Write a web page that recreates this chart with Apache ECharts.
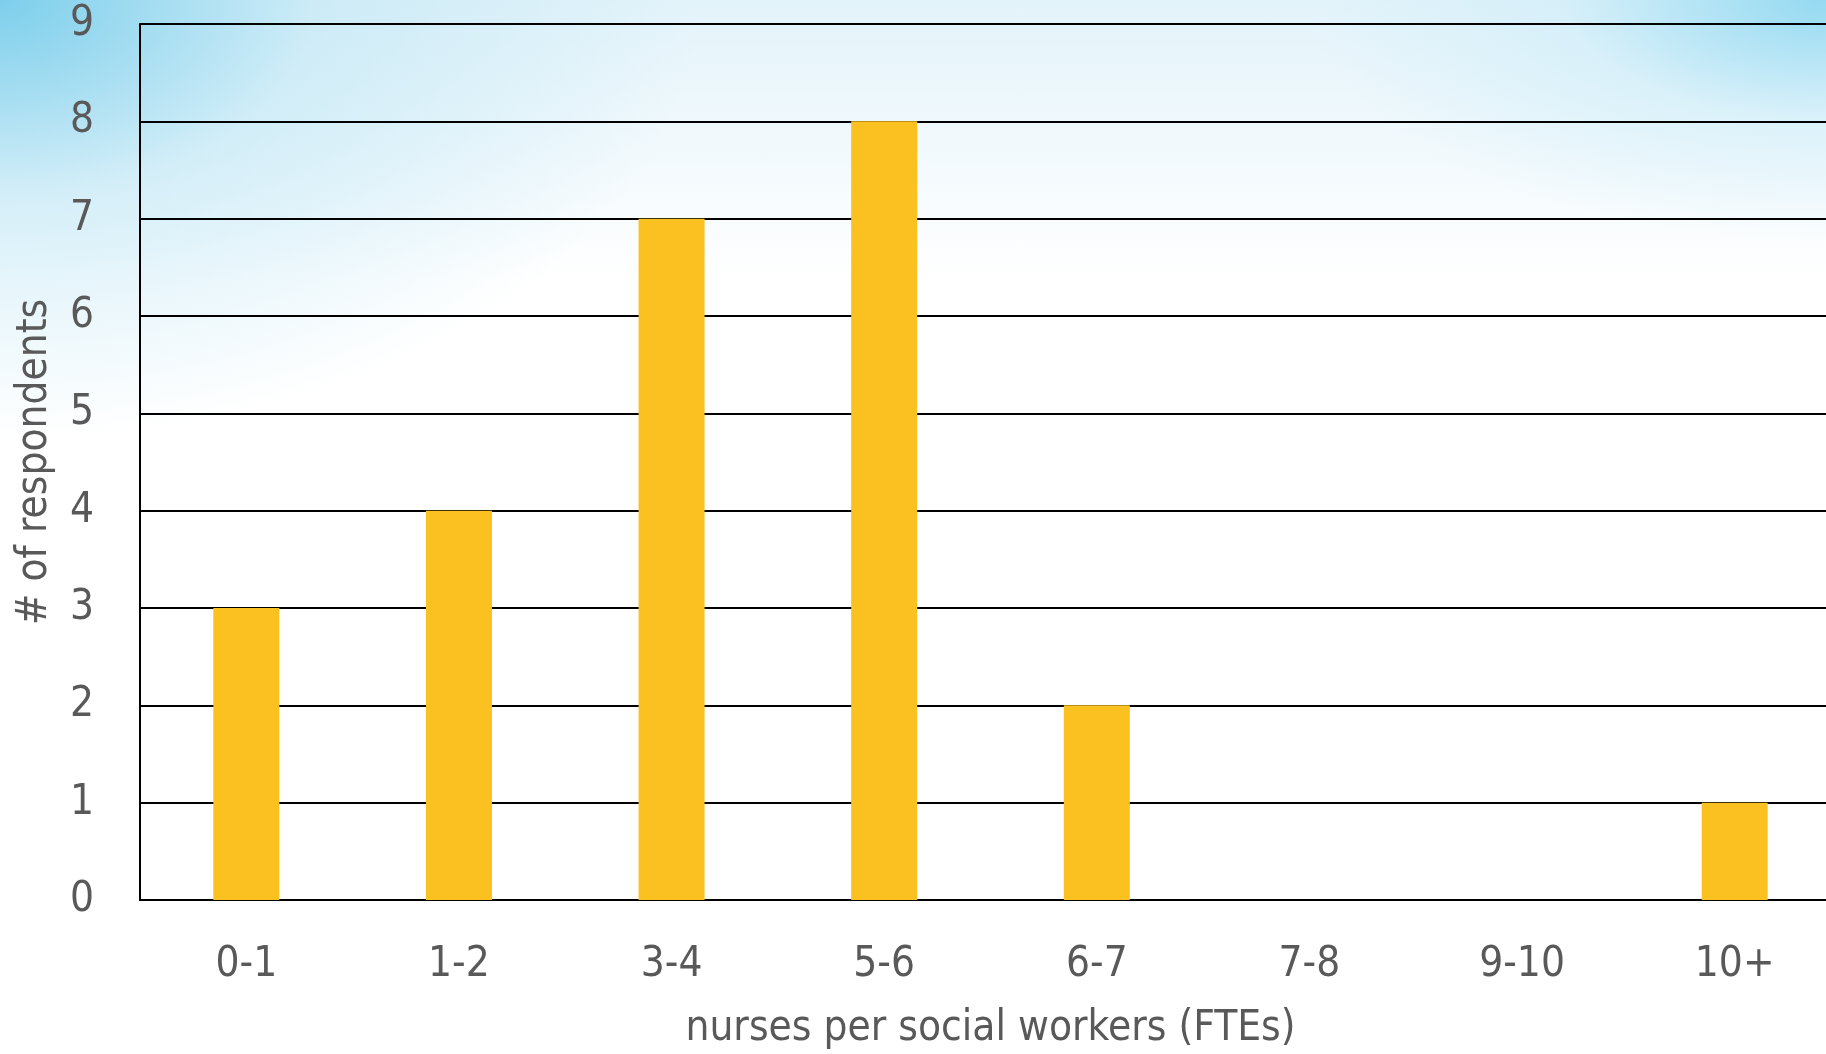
<!DOCTYPE html>
<html>
<head>
<meta charset="utf-8">
<script src="https://cdn.jsdelivr.net/npm/echarts@6/dist/echarts.min.js"></script>
<style>
  html, body { margin: 0; padding: 0; }
  body {
    width: 1826px; height: 1054px; overflow: hidden;
    background:
      radial-gradient(ellipse 700px 440px at 0px 0px, rgba(120,205,235,0.95), rgba(190,230,245,0.6) 45%, rgba(255,255,255,0) 100%),
      radial-gradient(ellipse 520px 240px at 1826px 0px, rgba(140,215,240,0.9), rgba(200,235,248,0.5) 50%, rgba(255,255,255,0) 100%),
      linear-gradient(180deg, #e3f3fa 0px, #ffffff 280px);
  }
  /* plot runs past the right edge in the original, so the canvas is wider than the window */
  #chart { width: 1870px; height: 1054px; }
</style>
</head>
<body>
<div id="chart"></div>
<script>
  // chart data
  const categories = ['0-1', '1-2', '3-4', '5-6', '6-7', '7-8', '9-10', '10+'];
  const respondents = [3, 4, 7, 8, 2, 0, 0, 1];
  const yTicks = { min: 0, max: 9, step: 1 };

  let chart = echarts.init(document.getElementById('chart'));
  const font = '"Liberation Sans Narrow", "DejaVu Sans Condensed", sans-serif';
  let option = {
    backgroundColor: 'transparent',
    animation: false,
    grid: {
      left: 140,
      top: 24,
      width: 1701,
      bottom: 154,
      outerBoundsMode: 'none'
    },
    xAxis: {
      type: 'category',
      data: categories,
      name: 'nurses per social workers (FTEs)',
      nameLocation: 'middle',
      nameGap: 108,
      nameTextStyle: { color: '#595959', fontSize: 42, fontFamily: font },
      axisLine: { show: true, lineStyle: { color: '#000', width: 2 } },
      axisTick: { show: false },
      axisLabel: { color: '#595959', fontSize: 42, fontFamily: font, margin: 44 }
    },
    yAxis: {
      type: 'value',
      min: yTicks.min,
      max: yTicks.max,
      interval: yTicks.step,
      name: '# of respondents',
      nameLocation: 'middle',
      nameGap: 84,
      nameTextStyle: { color: '#595959', fontSize: 42, fontFamily: font },
      axisLine: { show: true, lineStyle: { color: '#000', width: 2 } },
      axisTick: { show: false },
      axisLabel: { color: '#595959', fontSize: 42, fontFamily: font, margin: 46 },
      splitLine: { show: true, lineStyle: { color: '#000', width: 2 } }
    },
    series: [{
      type: 'bar',
      data: respondents,
      barWidth: 66,
      itemStyle: { color: '#FBC120' }
    }]
  };
  chart.setOption(option);
</script>
</body>
</html>
